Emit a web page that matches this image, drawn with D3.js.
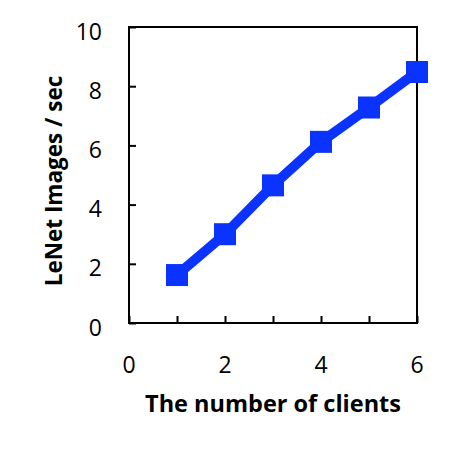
<!DOCTYPE html>
<html>
<head>
<meta charset="utf-8">
<script src="https://cdn.jsdelivr.net/npm/d3@7"></script>
<style>
  body { margin: 0; background: #fff; }
  svg text { font-family: "Open Sans", "Noto Sans", sans-serif; fill: #000; }
</style>
</head>
<body>
<div id="container"></div>
<script>
// data
const clients = [1, 2, 3, 4, 5, 6];
const imagesPerSec = [1.62, 3.0, 4.65, 6.12, 7.28, 8.48];
const xTickLabels = [0, 2, 4, 6];
const yTickLabels = [0, 2, 4, 6, 8, 10];

const width = 450, height = 450;
const margin = { left: 129, right: 33, top: 27, bottom: 127 };

const svg = d3.select("#container")
  .append("svg")
  .attr("width", width)
  .attr("height", height);

const xScale = d3.scaleLinear()
  .domain([0, 6])
  .range([margin.left, width - margin.right]);

const yScale = d3.scaleLinear()
  .domain([0, 10])
  .range([height - margin.bottom, margin.top]);

// box
svg.append("rect")
  .attr("x", xScale(0))
  .attr("y", yScale(10))
  .attr("width", xScale(6) - xScale(0))
  .attr("height", yScale(0) - yScale(10))
  .attr("fill", "none")
  .attr("stroke", "#000")
  .attr("stroke-width", 2);

// x axis: inward ticks at every integer, labels every 2
const xAxis = svg.append("g")
  .attr("transform", `translate(0,${yScale(0)})`)
  .call(d3.axisBottom(xScale).tickValues(d3.range(0, 7)).tickSize(-7).tickFormat(""));
xAxis.select(".domain").remove();
xAxis.selectAll("line").attr("stroke", "#000").attr("stroke-width", 2);

svg.selectAll("text.xtick")
  .data(xTickLabels)
  .join("text")
  .attr("class", "xtick")
  .attr("x", d => xScale(d))
  .attr("y", yScale(0) + 50)
  .attr("text-anchor", "middle")
  .style("font-size", "23px")
  .text(d => d);

// y axis
const yAxis = svg.append("g")
  .attr("transform", `translate(${xScale(0)},0)`)
  .call(d3.axisLeft(yScale).tickValues(yTickLabels).tickSize(-7).tickFormat(""));
yAxis.select(".domain").remove();
yAxis.selectAll("line").attr("stroke", "#000").attr("stroke-width", 2);

svg.selectAll("text.ytick")
  .data(yTickLabels)
  .join("text")
  .attr("class", "ytick")
  .attr("x", xScale(0) - 27)
  .attr("y", d => yScale(d) + 12.5)
  .attr("text-anchor", "end")
  .style("font-size", "23px")
  .text(d => d);

// axis titles
svg.append("text")
  .attr("x", 273)
  .attr("y", 412)
  .attr("text-anchor", "middle")
  .style("font-size", "23.5px")
  .style("font-weight", "bold")
  .text("The number of clients");

svg.append("text")
  .attr("transform", "translate(62,181) rotate(-90)")
  .attr("text-anchor", "middle")
  .style("font-size", "22.5px")
  .style("font-weight", "bold")
  .text("LeNet Images / sec");

// series
const points = clients.map((c, i) => ({ x: c, y: imagesPerSec[i] }));

svg.append("path")
  .datum(points)
  .attr("d", d3.line().x(d => xScale(d.x)).y(d => yScale(d.y)))
  .attr("fill", "none")
  .attr("stroke", "#0a33ff")
  .attr("stroke-width", 10);

const s = 22;
svg.selectAll("rect.marker")
  .data(points)
  .join("rect")
  .attr("class", "marker")
  .attr("x", d => xScale(d.x) - s / 2)
  .attr("y", d => yScale(d.y) - s / 2)
  .attr("width", s)
  .attr("height", s)
  .attr("fill", "#0a33ff");
</script>
</body>
</html>
